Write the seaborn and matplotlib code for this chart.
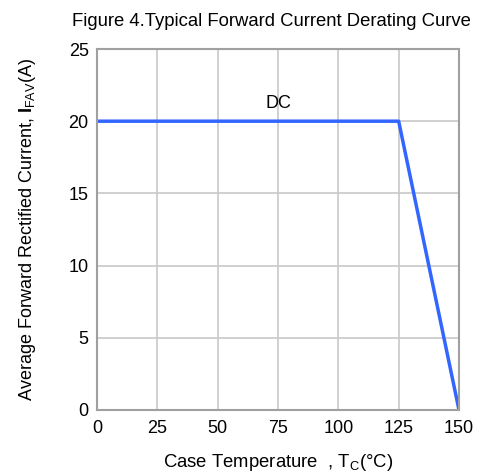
import matplotlib
matplotlib.use("Agg")
import matplotlib.pyplot as plt
import seaborn as sns
import pandas as pd

temperature = [0, 125, 150]
current = [20, 20, 0]
x_ticks = [0, 25, 50, 75, 100, 125, 150]
y_ticks = [0, 5, 10, 15, 20, 25]

sns.set_theme(style="whitegrid")
plt.rcParams['font.family'] = ['Liberation Sans', 'DejaVu Sans']
plt.rcParams['mathtext.fontset'] = 'custom'
plt.rcParams['mathtext.rm'] = 'Liberation Sans'
plt.rcParams['mathtext.bf'] = 'Liberation Sans:bold'

df = pd.DataFrame({"T": temperature, "I": current})

fig = plt.figure(figsize=(4.79, 4.74), dpi=100)
ax = fig.add_axes([97/479, 1-410/474, 362/479, 361/474])
sns.lineplot(data=df, x="T", y="I", ax=ax, color="#3366ff", linewidth=2.5)

ax.set_xlim(0, 150)
ax.set_ylim(0, 25)
ax.set_xticks(x_ticks)
ax.set_yticks(y_ticks)
ax.tick_params(axis='both', labelsize=13, length=0, colors='black')
ax.tick_params(axis='x', pad=7)
ax.tick_params(axis='y', pad=6)
ax.grid(True, color="#c8c8c8", linewidth=1.2)
for s in ax.spines.values():
    s.set_color("#a0a0a0")
    s.set_linewidth(1.5)

ax.text(75, 21.2, "DC", fontsize=13, ha='center', va='center', color='black')
ax.set_xlabel(r"Case Temperature  , T$_{\mathrm{C}}$(°C)", fontsize=13.3, labelpad=11, color='black')
ax.set_ylabel(r"Average Forward Rectified Current, $\mathbf{I}_{\mathrm{FAV}}$(A)", fontsize=13, labelpad=22, color='black')
fig.text(0.567, 0.955, "Figure 4.Typical Forward Current Derating Curve", fontsize=13.3, ha='center', va='center', color='black')

fig.savefig("out.png", dpi=100)
